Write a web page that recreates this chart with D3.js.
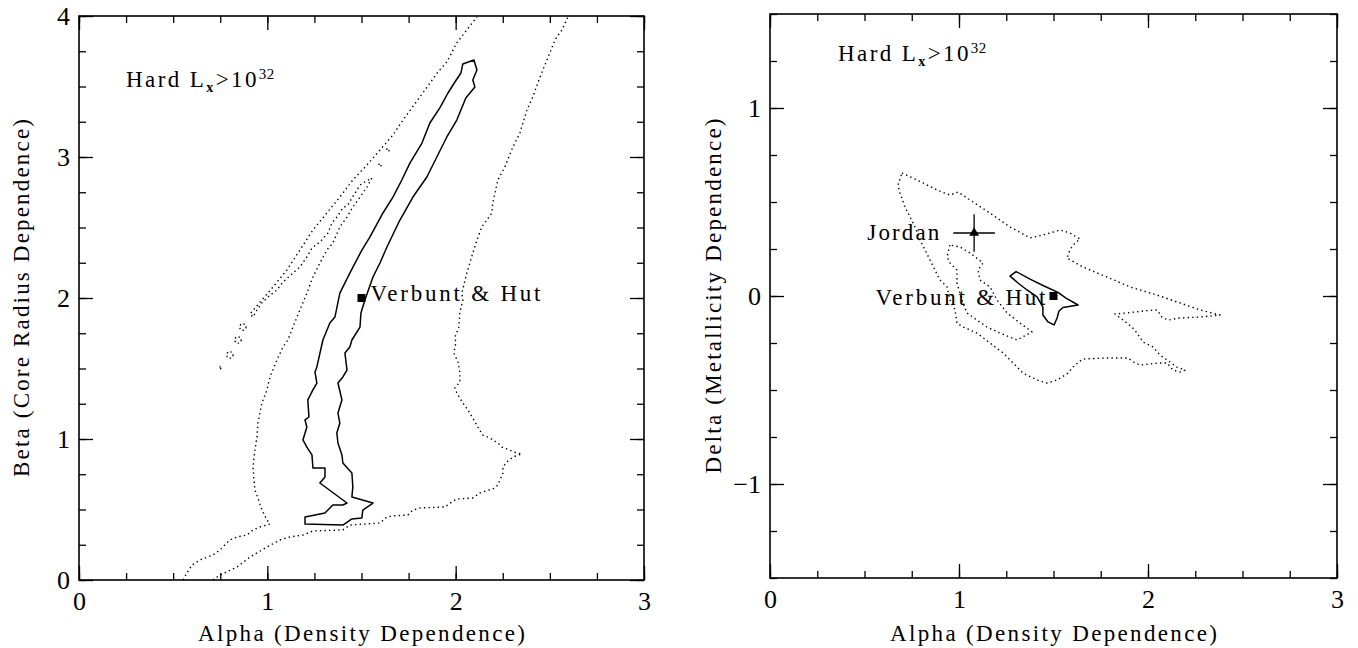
<!DOCTYPE html>
<html>
<head>
<meta charset="utf-8">
<script src="https://cdn.jsdelivr.net/npm/d3@7"></script>
<style>
  html, body { margin: 0; padding: 0; background: #fff; }
  svg { display: block; }
</style>
</head>
<body>
<svg id="chart" width="1358" height="648"></svg>
<script>
// ---------------- DATA ----------------
const xTickLabels = [0, 1, 2, 3];
const leftYTickLabels = [0, 1, 2, 3, 4];
const rightYTickLabels = [-1, 0, 1];

// Left panel (alpha, beta): solid confidence contour (closed)
const leftSolid = [
  [2.097,3.688],[2.038,3.660],[2.028,3.596],[1.996,3.532],[1.959,3.454],[1.916,3.348],[1.863,3.241],
  [1.821,3.099],[1.757,2.957],[1.714,2.837],[1.667,2.716],[1.614,2.603],[1.545,2.433],[1.502,2.340],
  [1.438,2.177],[1.385,2.035],[1.359,1.865],[1.332,1.823],[1.295,1.702],[1.263,1.511],[1.253,1.475],
  [1.263,1.397],[1.242,1.348],[1.215,1.277],[1.221,1.156],[1.200,1.135],[1.210,1.085],[1.189,0.993],
  [1.210,0.943],[1.237,0.887],[1.242,0.794],[1.306,0.794],[1.306,0.730],[1.279,0.688],[1.423,0.546],
  [1.401,0.532],[1.348,0.532],[1.306,0.475],[1.200,0.447],[1.200,0.397],[1.401,0.390],[1.449,0.433],
  [1.502,0.440],[1.507,0.496],[1.561,0.546],[1.449,0.589],[1.454,0.660],[1.449,0.759],[1.401,0.830],
  [1.396,0.887],[1.375,0.972],[1.369,1.043],[1.385,1.113],[1.375,1.184],[1.396,1.277],[1.375,1.397],
  [1.401,1.440],[1.423,1.489],[1.412,1.610],[1.438,1.652],[1.449,1.702],[1.492,1.794],[1.497,1.894],
  [1.518,1.986],[1.561,2.149],[1.598,2.248],[1.635,2.362],[1.704,2.553],[1.773,2.716],[1.847,2.858],
  [1.900,3.000],[1.953,3.142],[2.006,3.262],[2.054,3.418],[2.102,3.496],[2.091,3.546],[2.113,3.617]
];

// Left panel: dotted contour, western branch (bottom edge -> tongue tip -> back -> top edge)
const leftDottedWest = [
  [0.552,0.000],[0.573,0.050],[0.600,0.106],[0.642,0.142],[0.711,0.177],[0.748,0.213],[0.801,0.284],
  [0.839,0.305],[0.892,0.319],[0.924,0.355],[0.961,0.376],[1.014,0.397],[0.998,0.426],[0.971,0.496],
  [0.950,0.582],[0.934,0.638],[0.929,0.709],[0.924,0.801],[0.934,0.922],[0.945,1.014],[0.950,1.113],
  [0.971,1.255],[0.998,1.348],[1.014,1.440],[1.051,1.560],[1.083,1.652],[1.109,1.702],[1.136,1.794],
  [1.173,1.915],[1.210,2.035],[1.242,2.149],[1.279,2.248],[1.316,2.340],[1.348,2.390],[1.385,2.504],
  [1.423,2.574],[1.454,2.645],[1.492,2.716],[1.529,2.787],[1.555,2.851],
  [1.518,2.823],[1.492,2.801],[1.476,2.766],[1.449,2.709],[1.428,2.660],[1.401,2.638],[1.369,2.574],
  [1.343,2.532],[1.322,2.461],[1.279,2.397],[1.237,2.355],[1.210,2.291],[1.173,2.220],[1.136,2.177],
  [1.083,2.113],[1.051,2.057],[1.003,2.007],[0.971,1.965],[0.945,1.915],[0.924,1.865],[0.908,1.887],
  [0.971,1.986],[1.030,2.078],[1.104,2.199],[1.173,2.340],[1.242,2.482],[1.316,2.603],[1.385,2.716],
  [1.454,2.837],[1.529,2.943],[1.598,3.050],[1.667,3.156],[1.720,3.262],[1.810,3.426],[1.906,3.603],
  [1.953,3.674],[2.006,3.809],[2.059,3.901],[2.113,3.993]
];

// Left panel: dotted contour, eastern branch (bottom edge -> tip at alpha~2.35 -> top edge)
const leftDottedEast = [
  [0.711,0.000],[0.748,0.035],[0.839,0.092],[0.908,0.163],[0.998,0.234],[1.067,0.284],[1.120,0.305],
  [1.189,0.319],[1.242,0.348],[1.401,0.355],[1.438,0.390],[1.598,0.404],[1.635,0.447],[1.667,0.454],
  [1.746,0.461],[1.773,0.496],[1.810,0.511],[1.943,0.518],[1.980,0.553],[2.006,0.574],[2.091,0.582],
  [2.128,0.617],[2.208,0.652],[2.224,0.674],[2.251,0.759],[2.251,0.801],[2.272,0.837],[2.304,0.872],
  [2.351,0.894],[2.325,0.901],[2.245,0.943],[2.224,0.972],[2.182,1.007],[2.144,1.028],[2.118,1.085],
  [2.091,1.149],[2.065,1.206],[2.038,1.255],[2.006,1.326],[1.996,1.362],[2.022,1.404],[2.022,1.475],
  [2.012,1.546],[1.990,1.610],[2.001,1.681],[1.996,1.723],[2.017,1.794],[2.022,1.894],[2.038,1.986],
  [2.033,2.035],[2.059,2.177],[2.091,2.319],[2.113,2.411],[2.139,2.504],[2.192,2.603],[2.197,2.674],
  [2.224,2.837],[2.261,2.929],[2.304,3.071],[2.341,3.170],[2.378,3.333],[2.410,3.426],[2.436,3.525],
  [2.463,3.617],[2.500,3.738],[2.527,3.830],[2.564,3.901],[2.596,3.993]
];

// Left panel: small detached dotted islands (centres)
const leftIslands = [
  [0.870,1.794],[0.844,1.702],[0.801,1.596],[0.748,1.504],[1.598,2.943],[1.640,3.050]
];
const leftIslandSizes = [3.2, 3.2, 3.2, 1.0, 1.3, 1.3];

// Right panel (alpha, delta): solid contour (closed)
const rightSolid = [
  [1.270,0.106],[1.302,0.130],[1.376,0.090],[1.444,0.056],[1.524,0.019],[1.566,-0.011],[1.630,-0.048],
  [1.550,-0.061],[1.529,-0.080],[1.519,-0.117],[1.503,-0.154],[1.471,-0.138],[1.444,-0.101],
  [1.444,-0.059],[1.413,-0.005],[1.360,0.032],[1.312,0.069]
];

// Right panel: outer dotted contour (closed)
const rightDottedOuter = [
  [0.698,0.654],[0.778,0.617],[0.884,0.564],[0.952,0.537],[0.995,0.553],[1.058,0.511],[1.164,0.441],
  [1.270,0.367],[1.376,0.309],[1.444,0.324],[1.534,0.351],[1.587,0.335],[1.640,0.303],[1.603,0.271],
  [1.587,0.245],[1.571,0.202],[1.656,0.154],[1.783,0.101],[1.905,0.048],[2.048,0.005],[2.169,-0.037],
  [2.275,-0.074],[2.381,-0.101],[2.275,-0.112],[2.169,-0.117],[2.106,-0.128],[2.074,-0.112],
  [2.048,-0.074],[1.974,-0.080],[1.889,-0.090],[1.825,-0.096],[1.868,-0.128],[1.915,-0.165],
  [1.942,-0.197],[1.974,-0.245],[2.026,-0.271],[2.063,-0.314],[2.116,-0.351],[2.153,-0.378],
  [2.196,-0.394],[2.169,-0.404],[2.132,-0.394],[2.101,-0.356],[2.063,-0.356],[1.958,-0.367],
  [1.931,-0.356],[1.894,-0.330],[1.783,-0.330],[1.656,-0.335],[1.640,-0.346],[1.603,-0.378],
  [1.577,-0.410],[1.519,-0.447],[1.466,-0.463],[1.413,-0.447],[1.339,-0.410],[1.286,-0.356],
  [1.233,-0.303],[1.164,-0.250],[1.095,-0.197],[1.021,-0.165],[0.989,-0.144],[0.979,-0.074],
  [0.952,-0.021],[0.937,0.048],[0.899,0.085],[0.873,0.138],[0.847,0.191],[0.820,0.245],[0.794,0.298],
  [0.767,0.367],[0.741,0.420],[0.714,0.473],[0.688,0.548],[0.677,0.590]
];

// Right panel: inner dotted loop (closed)
const rightDottedInner = [
  [0.952,0.271],[0.937,0.207],[0.952,0.176],[0.989,0.138],[0.989,0.069],[1.005,0.016],[1.021,-0.037],
  [1.042,-0.090],[1.095,-0.128],[1.148,-0.165],[1.217,-0.197],[1.307,-0.234],[1.386,-0.191],
  [1.323,-0.144],[1.254,-0.090],[1.201,-0.021],[1.164,0.048],[1.111,0.085],[1.101,0.138],
  [1.127,0.176],[1.058,0.229],[1.005,0.261]
];

// Reference models
const verbuntHutLeft = [1.5, 2.0];
const verbuntHutRight = [1.5, 0.0];
const jordanPoint = [1.08, 0.335];
const jordanErr = [0.11, 0.10];

// ---------------- DRAWING ----------------
const FONT = "'Liberation Serif', 'Times New Roman', serif";
const svg = d3.select("#chart");
const defs = svg.append("defs");

function drawPanel(cfg) {
  const x = d3.scaleLinear().domain(cfg.xDomain).range(cfg.xRange);
  const y = d3.scaleLinear().domain(cfg.yDomain).range(cfg.yRange);
  const [x0, x1] = cfg.xRange;
  const [y0, y1] = cfg.yRange; // y0 bottom, y1 top
  const g = svg.append("g");

  defs.append("clipPath").attr("id", cfg.id + "-clip")
    .append("rect").attr("x", x0).attr("y", y1).attr("width", x1 - x0).attr("height", y0 - y1);

  const xMinor = d3.range(cfg.xDomain[0], cfg.xDomain[1] + 1e-9, 0.25);
  const yMinor = d3.range(cfg.yDomain[0], cfg.yDomain[1] + 1e-9, 0.25);
  const MAJ = 14, MIN = 7;

  function styleAxis(sel) {
    sel.select(".domain").remove();
    sel.selectAll("line").attr("stroke", "#000").attr("stroke-width", 1.3);
    sel.attr("font-family", FONT).attr("font-size", 26);
    sel.selectAll("text").attr("fill", "#000");
  }

  // bottom
  const gb = g.append("g").attr("transform", `translate(0,${y0})`);
  gb.append("g").call(d3.axisBottom(x).tickValues(xMinor).tickSize(-MIN).tickFormat("")).call(styleAxis);
  gb.append("g").call(d3.axisBottom(x).tickValues(cfg.xTicks).tickSize(-MAJ).tickPadding(12).tickFormat(d3.format("d"))).call(styleAxis);
  // top
  const gt = g.append("g").attr("transform", `translate(0,${y1})`);
  gt.append("g").call(d3.axisTop(x).tickValues(xMinor).tickSize(-MIN).tickFormat("")).call(styleAxis);
  gt.append("g").call(d3.axisTop(x).tickValues(cfg.xTicks).tickSize(-MAJ).tickFormat("")).call(styleAxis);
  // left
  const gl = g.append("g").attr("transform", `translate(${x0},0)`);
  gl.append("g").call(d3.axisLeft(y).tickValues(yMinor).tickSize(-MIN).tickFormat("")).call(styleAxis);
  gl.append("g").call(d3.axisLeft(y).tickValues(cfg.yTicks).tickSize(-MAJ).tickPadding(9).tickFormat(d3.format("d"))).call(styleAxis);
  // right
  const gr = g.append("g").attr("transform", `translate(${x1},0)`);
  gr.append("g").call(d3.axisRight(y).tickValues(yMinor).tickSize(-MIN).tickFormat("")).call(styleAxis);
  gr.append("g").call(d3.axisRight(y).tickValues(cfg.yTicks).tickSize(-MAJ).tickFormat("")).call(styleAxis);

  // frame
  g.append("rect").attr("x", x0).attr("y", y1).attr("width", x1 - x0).attr("height", y0 - y1)
    .attr("fill", "none").attr("stroke", "#000").attr("stroke-width", 1.6);

  // axis titles
  g.append("text").attr("x", (x0 + x1) / 2).attr("y", cfg.xTitleY)
    .attr("text-anchor", "middle").attr("font-family", FONT).attr("font-size", 23)
    .attr("textLength", 327).attr("lengthAdjust", "spacing").text(cfg.xTitle);
  g.append("text").attr("transform", `translate(${cfg.yTitleX},${(y0 + y1) / 2}) rotate(-90)`)
    .attr("text-anchor", "middle").attr("font-family", FONT).attr("font-size", 23)
    .attr("textLength", cfg.yTitleLen).attr("lengthAdjust", "spacing").text(cfg.yTitle);

  const plot = g.append("g").attr("clip-path", `url(#${cfg.id}-clip)`);
  return { x, y, g, plot };
}

function contour(p, data, dotted, closed) {
  const line = d3.line().x(d => p.x(d[0])).y(d => p.y(d[1]))
    .curve(closed ? d3.curveLinearClosed : d3.curveLinear);
  p.plot.append("path").datum(data).attr("d", line)
    .attr("fill", "none").attr("stroke", "#000")
    .attr("stroke-width", dotted ? 1.4 : 1.5)
    .attr("stroke-dasharray", dotted ? "1.4 3.2" : null)
    .attr("stroke-linejoin", "round");
}

function hardLabel(p, ax, ay) {
  const t = p.g.append("text").attr("x", p.x(ax)).attr("y", p.y(ay))
    .attr("font-family", FONT).attr("font-size", 23).attr("letter-spacing", 2.4).attr("fill", "#000");
  t.append("tspan").text("Hard L");
  t.append("tspan").attr("font-size", 14).attr("dy", 5).attr("font-weight", "bold").text("x");
  t.append("tspan").attr("dy", -5).text(">10");
  t.append("tspan").attr("font-size", 15).attr("dy", -8).attr("letter-spacing", 0.5).text("32");
}

// ---------- Left panel ----------
const L = drawPanel({
  id: "left", xDomain: [0, 3], yDomain: [0, 4], xRange: [79, 644], yRange: [580, 16],
  xTicks: xTickLabels, yTicks: leftYTickLabels,
  xTitle: "Alpha (Density Dependence)", yTitle: "Beta (Core Radius Dependence)",
  xTitleY: 641, yTitleX: 29, yTitleLen: 358
});
contour(L, leftSolid, false, true);
contour(L, leftDottedWest, true, false);
contour(L, leftDottedEast, true, false);
L.plot.selectAll("circle.island").data(leftIslands).join("circle")
  .attr("class", "island")
  .attr("cx", d => L.x(d[0])).attr("cy", d => L.y(d[1]))
  .attr("r", (d, i) => leftIslandSizes[i])
  .attr("fill", "none").attr("stroke", "#000").attr("stroke-width", 1.3).attr("stroke-dasharray", "1.4 2.4");
L.plot.append("rect")
  .attr("x", L.x(verbuntHutLeft[0]) - 4).attr("y", L.y(verbuntHutLeft[1]) - 4)
  .attr("width", 8).attr("height", 8).attr("fill", "#000");
L.g.append("text").attr("x", L.x(verbuntHutLeft[0]) + 9).attr("y", L.y(verbuntHutLeft[1]) + 3)
  .attr("font-family", FONT).attr("font-size", 23).attr("textLength", 170).attr("lengthAdjust", "spacing")
  .text("Verbunt & Hut");
hardLabel(L, 0.25, 3.5);

// ---------- Right panel ----------
const R = drawPanel({
  id: "right", xDomain: [0, 3], yDomain: [-1.5, 1.5], xRange: [770, 1337], yRange: [578, 14],
  xTicks: xTickLabels, yTicks: rightYTickLabels,
  xTitle: "Alpha (Density Dependence)", yTitle: "Delta (Metallicity Dependence)",
  xTitleY: 641, yTitleX: 721, yTitleLen: 355
});
contour(R, rightDottedOuter, true, true);
contour(R, rightDottedInner, true, true);
contour(R, rightSolid, false, true);
// Jordan point with error bars
R.plot.append("line")
  .attr("x1", R.x(jordanPoint[0] - jordanErr[0])).attr("x2", R.x(jordanPoint[0] + jordanErr[0]))
  .attr("y1", R.y(jordanPoint[1])).attr("y2", R.y(jordanPoint[1]))
  .attr("stroke", "#000").attr("stroke-width", 1.3);
R.plot.append("line")
  .attr("x1", R.x(jordanPoint[0])).attr("x2", R.x(jordanPoint[0]))
  .attr("y1", R.y(jordanPoint[1] - jordanErr[1])).attr("y2", R.y(jordanPoint[1] + jordanErr[1]))
  .attr("stroke", "#000").attr("stroke-width", 1.3);
R.plot.append("path")
  .attr("d", d3.symbol(d3.symbolTriangle, 42)())
  .attr("transform", `translate(${R.x(jordanPoint[0])},${R.y(jordanPoint[1])})`)
  .attr("fill", "#000");
R.g.append("text").attr("x", R.x(jordanPoint[0] - jordanErr[0]) - 14).attr("y", R.y(jordanPoint[1]) + 7)
  .attr("text-anchor", "end").attr("font-family", FONT).attr("font-size", 23)
  .attr("textLength", 72).attr("lengthAdjust", "spacing").text("Jordan");
R.plot.append("rect")
  .attr("x", R.x(verbuntHutRight[0]) - 4).attr("y", R.y(verbuntHutRight[1]) - 4)
  .attr("width", 8).attr("height", 8).attr("fill", "#000");
R.g.append("text").attr("x", R.x(verbuntHutRight[0]) - 8).attr("y", R.y(verbuntHutRight[1]) + 9)
  .attr("text-anchor", "end").attr("font-family", FONT).attr("font-size", 23)
  .attr("textLength", 170).attr("lengthAdjust", "spacing").text("Verbunt & Hut");
hardLabel(R, 0.36, 1.25);
</script>
</body>
</html>
